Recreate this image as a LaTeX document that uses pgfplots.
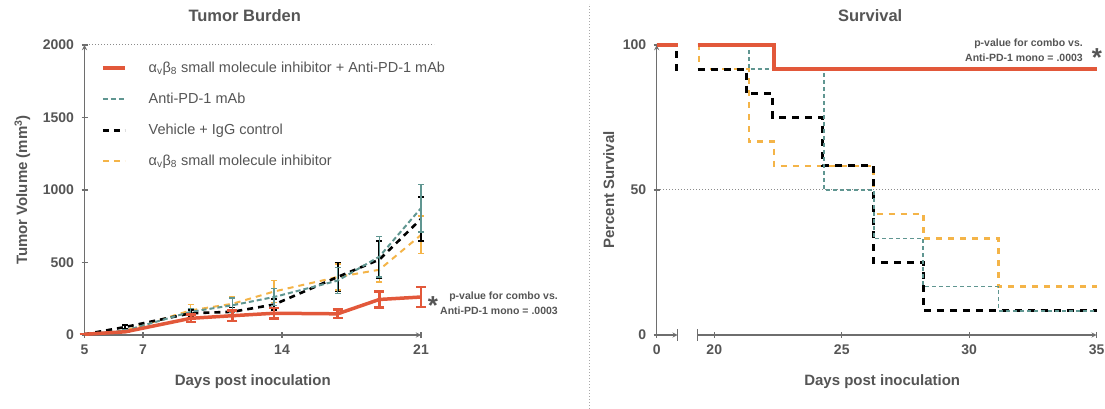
\documentclass[border=0pt]{standalone}
\usepackage{fontspec}
\setmainfont{Liberation Sans}
\usepackage{pgfplots}
\pgfplotsset{compat=1.18}

\definecolor{labgray}{RGB}{85,85,85}
\definecolor{axgray}{RGB}{110,110,110}
\definecolor{redc}{RGB}{226,88,58}
\definecolor{tealc}{RGB}{96,150,145}
\definecolor{orangec}{RGB}{244,180,72}

\pgfplotsset{
  myax/.style={
    scale only axis, height=290pt, anchor=south west,
    axis line style={-, draw=axgray, line width=1.3pt},
    tick style={draw=axgray, line width=1.3pt},
    major tick length=6pt, tick align=outside,
    tick label style={font=\bfseries\fontsize{14}{14}\selectfont, text=labgray},
    xticklabel style={yshift=-3pt}, yticklabel style={xshift=-4pt},
    label style={font=\bfseries\fontsize{15}{15}\selectfont, text=labgray},
    title style={font=\bfseries\fontsize{16.5}{16.5}\selectfont, text=labgray,
      at={(axis description cs:0.5,1)}, anchor=center, yshift=23pt},
    clip=false,
  },
  ebar/.style 2 args={error bars/.cd, y dir=both, y explicit,
    error bar style={solid, line width=#1},
    error mark options={solid, rotate=90, mark size=#2, line width=#1}},
}

\begin{document}
\begin{tikzpicture}
\path[use as bounding box] (0pt,0pt) rectangle (1105pt,409pt);

% dotted reference lines and separator
\draw[axgray!80, dotted, line width=1pt] (86pt,364pt) -- (434pt,364pt);
\draw[axgray!80, dotted, line width=1pt] (660pt,219pt) -- (1100pt,219pt);
\draw[axgray!60, dotted, line width=1pt] (589pt,0pt) -- (589pt,405pt);

% ---------- Tumor burden ----------
\begin{axis}[myax, at={(84.5pt,74pt)}, width=336.5pt,
  axis x line=bottom, axis y line=left,
  xmin=4.05, xmax=21, ymin=0, ymax=2000,
  xtick={4.05,7,14,21}, xticklabels={5,7,14,21},
  ytick={0,500,1000,1500,2000}, yticklabels={0,500,1000,1500,2000},
  xlabel={Days post inoculation},
  xlabel style={at={(axis description cs:0.5,0)}, anchor=center, yshift=-47pt},
  ylabel={Tumor Volume (mm\textsuperscript{3})},
  ylabel style={at={([xshift=-62pt]axis description cs:0,0.5)}, anchor=center},
  title={Tumor Burden}, title style={xshift=-8pt},
  legend style={at={(axis description cs:0.04,0.955)}, anchor=north west,
    draw=none, fill=none, font=\fontsize{14.5}{15}\selectfont, text=labgray,
    row sep=15pt, /tikz/every odd column/.append style={column sep=20pt}},
  legend cell align=left, reverse legend,
  legend image code/.code={\draw[#1] (0pt,0pt) -- (22pt,0pt);},
]
\addplot[orangec, line width=2pt, dash pattern=on 6pt off 5pt, ebar={1.2pt}{3pt}] coordinates {
  (4.05,5) +- (0,0) (6.1,30) +- (0,8) (9.4,170) +- (0,40) (11.5,215) +- (0,50)
  (13.6,300) +- (0,75) (16.8,400) +- (0,90) (18.9,450) +- (0,85) (21,690) +- (0,130)};
\addplot[black, line width=2.6pt, dash pattern=on 6pt off 5pt, ebar={1.8pt}{3pt}] coordinates {
  (4.05,5) +- (0,0) (6.1,55) +- (0,12) (9.4,150) +- (0,20) (11.5,160) +- (0,30)
  (13.6,210) +- (0,40) (16.8,400) +- (0,100) (18.9,520) +- (0,130) (21,800) +- (0,150)};
\addplot[tealc, line width=2pt, dash pattern=on 5pt off 3pt, ebar={1.2pt}{3pt}] coordinates {
  (4.05,5) +- (0,0) (6.1,30) +- (0,8) (9.4,160) +- (0,20) (11.5,205) +- (0,50)
  (13.6,262) +- (0,60) (16.8,375) +- (0,90) (18.9,540) +- (0,140) (21,875) +- (0,165)};
\addplot[redc, line width=3.5pt, ebar={2.4pt}{5pt}] coordinates {
  (4.05,5) +- (0,0) (6.1,22) +- (0,0) (9.4,115) +- (0,25) (11.5,133) +- (0,35)
  (13.6,150) +- (0,35) (16.8,146) +- (0,30) (18.9,245) +- (0,55) (21,262) +- (0,70)};
\legend{α\textsubscript{v}β\textsubscript{8} small molecule inhibitor,
  Vehicle + IgG control, Anti-PD-1 mAb,
  α\textsubscript{v}β\textsubscript{8} small molecule inhibitor + Anti-PD-1 mAb}
\end{axis}

% ---------- Survival, first segment ----------
\begin{axis}[myax, at={(656.7pt,74pt)}, width=21pt,
  axis x line=bottom, axis y line=left,
  xmin=0, xmax=1, ymin=0, ymax=100,
  xtick={0}, xticklabels={0},
  extra x ticks={1}, extra x tick labels={},
  extra x tick style={tick align=center, major tick length=12pt},
  ytick={0,50,100}, yticklabels={0,50,100},
  ylabel={Percent Survival},
  ylabel style={at={([xshift=-48pt]axis description cs:0,0.5)}, anchor=center},
]
\addplot[const plot, orangec, line width=2.4pt, dash pattern=on 6pt off 6pt] coordinates {(0,100) (1,100)};
\addplot[const plot, black, line width=3pt, dash pattern=on 7pt off 6pt] coordinates {(0,100) (0.95,91.7) (1,91.7)};
\addplot[const plot, tealc, line width=1.8pt, dash pattern=on 4pt off 3pt] coordinates {(0,100) (1,100)};
\addplot[const plot, redc, line width=3.5pt] coordinates {(0,100) (1,100)};
\end{axis}

% ---------- Survival, second segment ----------
\begin{axis}[myax, at={(697.7pt,74pt)}, width=399pt,
  axis x line=bottom, axis y line=none,
  xmin=19.35, xmax=35, ymin=0, ymax=100,
  xtick={20,25,30,35}, xticklabels={20,25,30,35},
  extra x ticks={19.35}, extra x tick labels={},
  extra x tick style={tick align=center, major tick length=12pt},
  xlabel={Days post inoculation},
  xlabel style={at={(axis description cs:0.5,0)}, anchor=center, yshift=-47pt, xshift=-15pt},
  title={Survival}, title style={xshift=-27pt},
]
\addplot[const plot, orangec, line width=2.4pt, dash pattern=on 6pt off 6pt] coordinates {
  (19.35,100) (19.4,91.7) (21.35,66.7) (22.35,58.3) (26.25,41.7) (28.2,33.3) (31.15,16.7) (35,16.7)};
\addplot[const plot, black, line width=3pt, dash pattern=on 7pt off 6pt] coordinates {
  (19.35,91.7) (21.25,83.3) (22.3,75) (24.25,58.3) (26.25,25) (28.2,8.3) (35,8.3)};
\addplot[const plot, tealc, line width=1.8pt, dash pattern=on 4pt off 3pt] coordinates {
  (19.35,100) (21.35,91.7) (24.3,50) (26.25,33.3) (28.2,16.7) (31.15,8.3) (35,8.3)};
\addplot[const plot, redc, line width=3.5pt] coordinates {
  (19.35,100) (22.35,91.7) (35,91.7)};
\end{axis}

% annotations
\node[inner sep=0pt, text=labgray, font=\bfseries\fontsize{26}{26}\selectfont] at (433pt,103pt) {*};
\node[anchor=east, align=right, inner sep=0pt, text=labgray, font=\bfseries\fontsize{10.5}{15}\selectfont] at (558pt,106pt)
  {p-value for combo vs.\\Anti-PD-1 mono = .0003};
\node[inner sep=0pt, text=labgray, font=\bfseries\fontsize{26}{26}\selectfont] at (1097pt,351pt) {*};
\node[anchor=east, align=right, inner sep=0pt, text=labgray, font=\bfseries\fontsize{10.5}{15}\selectfont] at (1083pt,359pt)
  {p-value for combo vs.\\Anti-PD-1 mono = .0003};
\end{tikzpicture}
\end{document}
